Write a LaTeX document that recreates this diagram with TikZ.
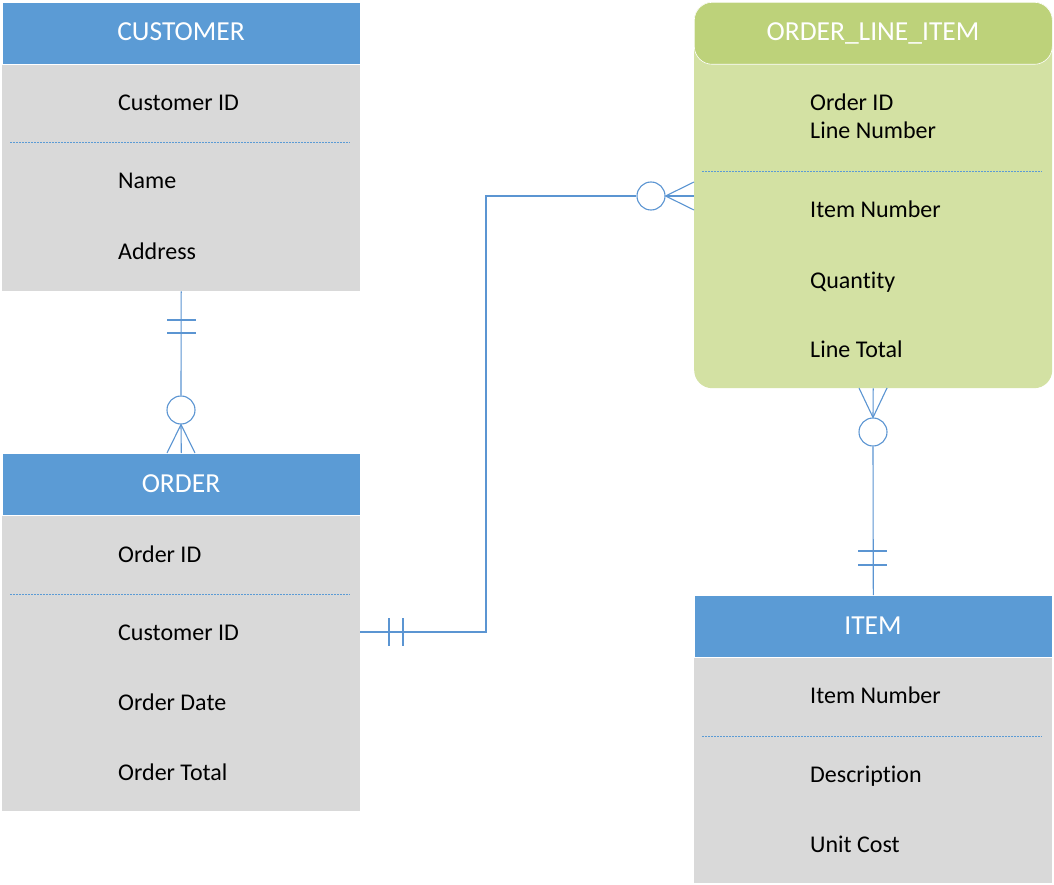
\documentclass[tikz,border=0pt]{standalone}
\usepackage{fontspec}
\setmainfont[Ligatures=NoCommon]{Carlito}
\usetikzlibrary{calc}
\definecolor{hblue}{HTML}{5B9BD5}
\definecolor{bgray}{HTML}{D9D9D9}
\definecolor{hgreen}{HTML}{BDD27A}
\definecolor{bgreen}{HTML}{D3E1A3}
\definecolor{lnblue}{HTML}{5B95D2}
\tikzset{
  body/.style={fill=bgray, draw=none, inner sep=0pt, anchor=north west},
  hdr/.style={fill=hblue, draw=white, line width=0.6pt, inner sep=0pt, anchor=north west},
  hdrtext/.style={anchor=base, text=white, font=\fontsize{27.5}{32}\selectfont, inner sep=0pt},
  attr/.style={anchor=base west, text=black, font=\fontsize{24}{28}\selectfont, inner sep=0pt},
  sep/.style={draw=hblue, line width=1pt, dash pattern=on 2pt off 1pt},
  conn/.style={draw=lnblue, line width=1.1pt},
  ring/.style={circle, draw=lnblue, line width=1.1pt, fill=white, minimum size=28pt, inner sep=0pt},
}
\begin{document}
\begin{tikzpicture}[x=1pt,y=-1pt]
\useasboundingbox (0,0) rectangle (1054,885);
\fill[white] (0,0) rectangle (1054,885);

% CUSTOMER
\node[body, minimum width=358pt, minimum height=289pt] (custB) at (2,2) {};
\node[hdr, minimum width=358pt, minimum height=62pt] (custH) at (2,2) {};
\node[hdrtext] (custT) at (181,41) {CUSTOMER};
\node[attr] (cust1) at (118,111) {Customer ID};
\draw[sep] (10,143) -- (350,143);
\node[attr] (cust2) at (118,189) {Name};
\node[attr] (cust3) at (118,259) {Address};

% ORDER
\node[body, minimum width=358pt, minimum height=358pt] (ordB) at (2,453) {};
\node[hdr, minimum width=358pt, minimum height=62pt] (ordH) at (2,453) {};
\node[hdrtext] (ordT) at (181,492) {ORDER};
\node[attr] (ord1) at (118,562) {Order ID};
\draw[sep] (10,594) -- (350,594);
\node[attr] (ord2) at (118,640) {Customer ID};
\node[attr] (ord3) at (118,710) {Order Date};
\node[attr] (ord4) at (118,780) {Order Total};

% ORDER_LINE_ITEM
\node[body, fill=bgreen, rounded corners=18pt, minimum width=358pt, minimum height=386pt] (oliB) at (694,2) {};
\node[hdr, fill=hgreen, rounded corners=18pt, minimum width=358pt, minimum height=62pt] (oliH) at (694,2) {};
\node[hdrtext] (oliT) at (873,41) {ORDER\_LINE\_ITEM};
\node[attr] (oli1) at (810,111) {Order ID};
\node[attr] (oli2) at (810,139) {Line Number};
\draw[sep] (702,172) -- (1042,172);
\node[attr] (oli3) at (810,218) {Item Number};
\node[attr] (oli4) at (810,288) {Quantity};
\node[attr] (oli5) at (810,357) {Line Total};

% ITEM
\node[body, minimum width=358pt, minimum height=288pt] (itemB) at (694,595) {};
\node[hdr, minimum width=358pt, minimum height=62pt] (itemH) at (694,595) {};
\node[hdrtext] (itemT) at (873,634) {ITEM};
\node[attr] (item1) at (810,703) {Item Number};
\draw[sep] (702,736) -- (1042,736);
\node[attr] (item2) at (810,782) {Description};
\node[attr] (item3) at (810,852) {Unit Cost};

% CUSTOMER -- ORDER
\node[ring] (r1) at (181,410) {};
\coordinate (f1a) at (167,453);
\coordinate (f1b) at (195,453);
\draw[conn] (custB.south) -- (r1.north);
\draw[conn] (r1.south) -- (ordH.north);
\draw[conn] (r1.south) -- (f1a);
\draw[conn] (r1.south) -- (f1b);
\draw[conn] (167,320) -- (196,320);
\draw[conn] (167,333) -- (196,333);

% ORDER -- ORDER_LINE_ITEM
\node[ring] (r2) at (651,196) {};
\coordinate (ob) at (360,632);
\coordinate (oe) at (694,196);
\coordinate (f2a) at (694,182);
\coordinate (f2b) at (694,210);
\draw[conn] (ob) -- (486,632) -- (486,196) -- (r2.west);
\draw[conn] (r2.east) -- (oe);
\draw[conn] (r2.east) -- (f2a);
\draw[conn] (r2.east) -- (f2b);
\draw[conn] (389,618) -- (389,646);
\draw[conn] (403,618) -- (403,646);

% ORDER_LINE_ITEM -- ITEM
\node[ring] (r3) at (873,432) {};
\coordinate (f3a) at (859,388);
\coordinate (f3b) at (887,388);
\draw[conn] (oliB.south) -- (r3.north);
\draw[conn] (r3.north) -- (f3a);
\draw[conn] (r3.north) -- (f3b);
\draw[conn] (r3.south) -- (itemH.north);
\draw[conn] (858,551) -- (887,551);
\draw[conn] (858,565) -- (887,565);
\end{tikzpicture}
\end{document}
